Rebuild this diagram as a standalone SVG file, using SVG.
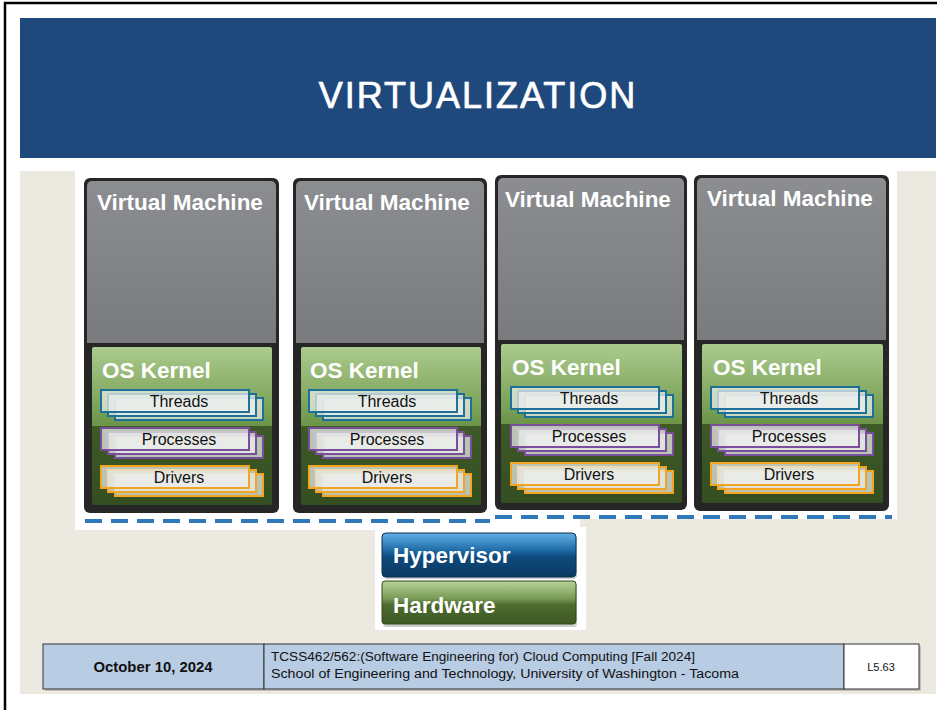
<svg xmlns="http://www.w3.org/2000/svg" width="940" height="710" viewBox="0 0 940 710">
<defs>
<style>
.vmt{font-family:"Liberation Sans",Arial,sans-serif;font-weight:bold;font-size:22.5px;fill:#ffffff}
.lbl{font-family:"Liberation Sans",Arial,sans-serif;font-size:16px;fill:#111111;text-anchor:middle}
.frame{fill:#262626}
.gray{fill:url(#gGray)}
.green{fill:url(#gGreen)}
.st{fill:#eceeec;fill-opacity:0.72;stroke-width:2}
.th{stroke:#1d7196}
.pr{stroke:#7a4e9c}
.dr{stroke:#f2a521}
.dash{stroke:#3079b9;stroke-width:4;stroke-dasharray:17 9;fill:none}
.ft{font-family:"Liberation Sans",Arial,sans-serif;fill:#111111}
</style>
<linearGradient id="gGray" x1="0" y1="0" x2="0" y2="1">
<stop offset="0" stop-color="#8b8d90"/><stop offset="1" stop-color="#797b7e"/>
</linearGradient>
<linearGradient id="gGreen" x1="0" y1="0" x2="0" y2="1">
<stop offset="0" stop-color="#abcb8d"/><stop offset="0.5" stop-color="#6c9549"/>
<stop offset="0.5" stop-color="#3e5a27"/><stop offset="1" stop-color="#354e21"/>
</linearGradient>
<linearGradient id="gHyp" x1="0" y1="0" x2="0" y2="1">
<stop offset="0" stop-color="#62b0e6"/><stop offset="0.4" stop-color="#1d6aa6"/>
<stop offset="0.55" stop-color="#0e4a7d"/><stop offset="1" stop-color="#0a3960"/>
</linearGradient>
<linearGradient id="gHw" x1="0" y1="0" x2="0" y2="1">
<stop offset="0" stop-color="#b6d398"/><stop offset="0.4" stop-color="#7b9c58"/>
<stop offset="0.55" stop-color="#4e6c30"/><stop offset="1" stop-color="#3d5725"/>
</linearGradient>
</defs>

<!-- page -->
<rect x="0" y="0" width="940" height="710" fill="#ffffff"/>
<path d="M5,710 V3 H937" fill="none" stroke="#000000" stroke-width="2.5"/>
<rect x="20" y="18" width="916" height="140" fill="#1f497d"/>
<text x="478" y="108" text-anchor="middle" font-family="'Liberation Sans',Arial,sans-serif" font-size="36" letter-spacing="2" fill="#ffffff" stroke="#ffffff" stroke-width="0.7">VIRTUALIZATION</text>
<rect x="20" y="171" width="916" height="523" fill="#ece9e0"/>
<rect x="75" y="171" width="822" height="348" fill="#ffffff"/>
<rect x="75" y="171" width="505" height="359" fill="#ffffff"/>
<rect x="375" y="527" width="211" height="103" fill="#ffffff"/>

<!-- VM 1 -->
<g id="vm1">
<rect class="frame" x="84" y="178" width="195" height="335" rx="6"/>
<path class="gray" d="M87,186 a5,5 0 0 1 5,-5 H271 a5,5 0 0 1 5,5 V343 H87 Z"/>
<rect class="green" x="92" y="347" width="180" height="158" rx="2"/>
<text class="vmt" x="97" y="210">Virtual Machine</text>
<text class="vmt" x="102" y="378">OS Kernel</text>
<g id="vm1-threads"><rect class="st th" x="115" y="398" width="148" height="22"/><rect class="st th" x="108" y="394" width="148" height="22"/><rect class="st th" x="101" y="390" width="148" height="22"/><text class="lbl" x="179" y="407">Threads</text></g>
<g id="vm1-processes"><rect class="st pr" x="115" y="436" width="148" height="22"/><rect class="st pr" x="108" y="432" width="148" height="22"/><rect class="st pr" x="101" y="428" width="148" height="22"/><text class="lbl" x="179" y="445">Processes</text></g>
<g id="vm1-drivers"><rect class="st dr" x="115" y="474" width="148" height="22"/><rect class="st dr" x="108" y="470" width="148" height="22"/><rect class="st dr" x="101" y="466" width="148" height="22"/><text class="lbl" x="179" y="483">Drivers</text></g>
</g>

<!-- VM 2 -->
<g id="vm2">
<rect class="frame" x="293" y="178" width="194" height="335" rx="6"/>
<path class="gray" d="M296,186 a5,5 0 0 1 5,-5 H479 a5,5 0 0 1 5,5 V343 H296 Z"/>
<rect class="green" x="301" y="347" width="180" height="158" rx="2"/>
<text class="vmt" x="304" y="210">Virtual Machine</text>
<text class="vmt" x="310" y="378">OS Kernel</text>
<g id="vm2-threads"><rect class="st th" x="323" y="398" width="148" height="22"/><rect class="st th" x="316" y="394" width="148" height="22"/><rect class="st th" x="309" y="390" width="148" height="22"/><text class="lbl" x="387" y="407">Threads</text></g>
<g id="vm2-processes"><rect class="st pr" x="323" y="436" width="148" height="22"/><rect class="st pr" x="316" y="432" width="148" height="22"/><rect class="st pr" x="309" y="428" width="148" height="22"/><text class="lbl" x="387" y="445">Processes</text></g>
<g id="vm2-drivers"><rect class="st dr" x="323" y="474" width="148" height="22"/><rect class="st dr" x="316" y="470" width="148" height="22"/><rect class="st dr" x="309" y="466" width="148" height="22"/><text class="lbl" x="387" y="483">Drivers</text></g>
</g>

<!-- VM 3 -->
<g id="vm3">
<rect class="frame" x="495" y="175" width="192" height="335" rx="6"/>
<path class="gray" d="M498,183 a5,5 0 0 1 5,-5 H679 a5,5 0 0 1 5,5 V340 H498 Z"/>
<rect class="green" x="501" y="344" width="181" height="159" rx="2"/>
<text class="vmt" x="505" y="207">Virtual Machine</text>
<text class="vmt" x="512" y="375">OS Kernel</text>
<g id="vm3-threads"><rect class="st th" x="525" y="395" width="148" height="22"/><rect class="st th" x="518" y="391" width="148" height="22"/><rect class="st th" x="511" y="387" width="148" height="22"/><text class="lbl" x="589" y="404">Threads</text></g>
<g id="vm3-processes"><rect class="st pr" x="525" y="433" width="148" height="22"/><rect class="st pr" x="518" y="429" width="148" height="22"/><rect class="st pr" x="511" y="425" width="148" height="22"/><text class="lbl" x="589" y="442">Processes</text></g>
<g id="vm3-drivers"><rect class="st dr" x="525" y="471" width="148" height="22"/><rect class="st dr" x="518" y="467" width="148" height="22"/><rect class="st dr" x="511" y="463" width="148" height="22"/><text class="lbl" x="589" y="480">Drivers</text></g>
</g>

<!-- VM 4 -->
<g id="vm4">
<rect class="frame" x="694" y="175" width="195" height="336" rx="6"/>
<path class="gray" d="M697,183 a5,5 0 0 1 5,-5 H881 a5,5 0 0 1 5,5 V340 H697 Z"/>
<rect class="green" x="702" y="344" width="181" height="159" rx="2"/>
<text class="vmt" x="707" y="206">Virtual Machine</text>
<text class="vmt" x="713" y="375">OS Kernel</text>
<g id="vm4-threads"><rect class="st th" x="725" y="395" width="148" height="22"/><rect class="st th" x="718" y="391" width="148" height="22"/><rect class="st th" x="711" y="387" width="148" height="22"/><text class="lbl" x="789" y="404">Threads</text></g>
<g id="vm4-processes"><rect class="st pr" x="725" y="433" width="148" height="22"/><rect class="st pr" x="718" y="429" width="148" height="22"/><rect class="st pr" x="711" y="425" width="148" height="22"/><text class="lbl" x="789" y="442">Processes</text></g>
<g id="vm4-drivers"><rect class="st dr" x="725" y="471" width="148" height="22"/><rect class="st dr" x="718" y="467" width="148" height="22"/><rect class="st dr" x="711" y="463" width="148" height="22"/><text class="lbl" x="789" y="480">Drivers</text></g>
</g>

<!-- dashed separators -->
<g id="connectors">
<line class="dash" x1="85" y1="521" x2="490" y2="521"/>
<line class="dash" x1="495" y1="517" x2="892" y2="517"/>
</g>

<!-- Hypervisor -->
<g id="hypervisor">
<rect x="383" y="535" width="194" height="44" rx="4" fill="#9aa3ab" opacity="0.5"/>
<rect x="382" y="533" width="194" height="44" rx="4" fill="url(#gHyp)" stroke="#0a3050" stroke-width="1"/>
<text class="vmt" x="393" y="563">Hypervisor</text>
</g>

<!-- Hardware -->
<g id="hardware">
<rect x="383" y="583" width="194" height="44" rx="3" fill="#9aa39a" opacity="0.5"/>
<rect x="382" y="581" width="194" height="43" rx="3" fill="url(#gHw)" stroke="#34491f" stroke-width="1"/>
<text class="vmt" x="393" y="613">Hardware</text>
</g>

<!-- footer -->
<g id="footer">
<rect x="45" y="646" width="876" height="45" fill="#777777" opacity="0.35"/>
<rect x="43" y="644" width="221" height="45" fill="#b8cce4" stroke="#333333" stroke-width="1"/>
<rect x="264" y="644" width="580" height="45" fill="#b8cce4" stroke="#333333" stroke-width="1"/>
<rect x="844" y="644" width="75" height="45" fill="#ffffff" stroke="#333333" stroke-width="1"/>
<text class="ft" x="153" y="672" text-anchor="middle" font-size="14" font-weight="bold" textLength="119" lengthAdjust="spacingAndGlyphs">October 10, 2024</text>
<text class="ft" x="271" y="661" font-size="12.5" textLength="424" lengthAdjust="spacingAndGlyphs">TCSS462/562:(Software Engineering for) Cloud Computing [Fall 2024]</text>
<text class="ft" x="271" y="678" font-size="12.5" textLength="468" lengthAdjust="spacingAndGlyphs">School of Engineering and Technology, University of Washington - Tacoma</text>
<text class="ft" x="881" y="671" text-anchor="middle" font-size="11">L5.63</text>
</g>
</svg>
